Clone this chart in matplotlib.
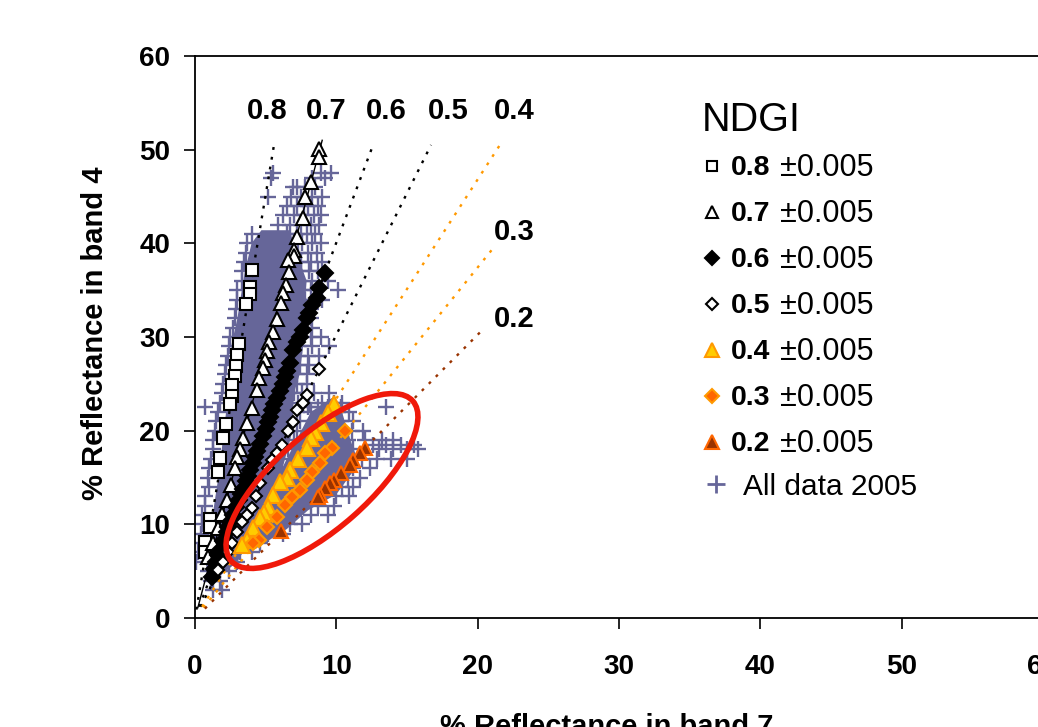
import matplotlib
matplotlib.use("Agg")
import matplotlib.pyplot as plt
from matplotlib.lines import Line2D
from matplotlib.patches import Ellipse
from matplotlib.transforms import IdentityTransform

FONT = 'Liberation Sans'
plt.rcParams['font.family'] = FONT

# NDGI series
x_08 = [4.0, 3.9, 3.9, 3.6, 3.1, 3.0, 2.9, 2.8, 2.6, 2.6, 2.5, 2.2, 2.0, 1.8, 1.6, 1.06, 1.06, 0.7, 0.7]
y_08 = [37.1, 35.3, 34.6, 33.5, 29.2, 28.1, 26.9, 25.8, 24.9, 23.7, 22.8, 20.7, 19.2, 17.1, 15.6, 10.6, 9.7, 8.1, 7.0]
x_07 = [8.78, 8.78, 8.2, 7.8, 7.65, 7.2, 7.0, 7.0, 6.6, 6.65, 6.45, 6.2, 6.1, 5.8, 5.5, 5.25, 5.1, 4.95, 4.8, 4.5,
        4.4, 4.0, 3.7, 3.4, 3.2, 3.0, 2.85, 2.55, 2.25, 1.9, 1.6, 1.3, 0.9]
y_07 = [50.1, 49.2, 46.5, 45.0, 42.7, 40.7, 39.3, 38.7, 38.2, 36.9, 35.6, 34.7, 33.6, 31.9, 30.5, 29.5, 28.5, 27.5, 26.7, 25.6,
        24.3, 22.4, 20.8, 19.2, 18.0, 17.2, 16.0, 14.2, 12.6, 11.1, 9.6, 8.0, 6.5]
x_06 = [9.2, 8.8, 8.6, 8.3, 8.1, 7.9, 7.65, 7.4, 7.2, 6.95, 6.7, 6.5, 6.4, 6.2, 6.0, 5.8, 5.6, 5.45, 5.3, 5.15, 5.0, 4.8, 4.6, 4.4, 4.25,
        4.1, 3.9, 3.75, 3.6, 3.4, 3.25, 3.1, 2.9, 2.7, 2.5, 2.35, 2.25, 2.0, 1.8, 1.65, 1.5, 1.35, 1.2]
y_06 = [36.8, 35.2, 34.2, 33.4, 32.6, 32.0, 30.7, 30.0, 29.5, 28.6, 27.2, 26.4, 25.7, 25.0, 24.2, 23.5, 22.8, 22.2, 21.5, 20.9, 20.2, 19.4, 18.6, 17.8,
        17.2, 16.6, 15.8, 15.2, 14.6, 13.8, 13.2, 12.6, 11.8, 11.0, 10.2, 9.7, 9.2, 8.2, 7.3, 6.7, 6.0, 5.2, 4.4]
x_05 = [8.8, 7.9, 7.65, 7.2, 6.9, 6.6, 6.15, 5.8, 5.45, 5.2, 4.6, 4.3, 4.05, 3.7, 3.3, 3.0, 2.6, 2.3, 2.0, 1.6]
y_05 = [26.6, 23.8, 23.0, 22.2, 20.9, 20.0, 18.5, 17.6, 16.9, 16.0, 14.4, 13.0, 11.7, 11.0, 10.2, 9.2, 8.0, 7.0, 6.0, 5.1]
x_04 = [9.8, 9.4, 8.9, 8.5, 8.2, 7.9, 7.3, 6.7, 6.5, 6.0, 5.5, 5.2, 4.9, 4.6, 4.1, 3.7, 3.3]
y_04 = [22.9, 21.9, 20.8, 19.9, 19.2, 18.2, 17.0, 15.8, 14.9, 14.5, 13.1, 11.8, 11.2, 10.7, 9.6, 8.3, 7.8]
x_03 = [10.6, 9.7, 9.2, 8.85, 8.3, 7.9, 7.4, 6.85, 6.4, 5.8, 5.1, 4.5, 4.1]
y_03 = [20.0, 18.2, 17.6, 16.5, 15.6, 14.7, 13.7, 12.9, 12.1, 10.8, 9.7, 8.3, 8.0]
x_02 = [12.0, 11.7, 11.2, 11.0, 10.3, 9.8, 9.55, 9.2, 8.85, 8.7, 6.1]
y_02 = [18.1, 17.6, 16.9, 16.3, 15.5, 14.7, 14.4, 13.9, 13.1, 12.9, 9.3]

# All data 2005: the parts so dense that single points cannot be read
dense_x = [0.7, 1.2, 1.7, 2.2, 2.6, 3.0, 3.5, 4.0, 4.7, 6.7, 7.3, 7.9, 7.75, 7.65, 7.4, 7.0, 6.9, 6.2, 4.5, 3.0, 1.2]
dense_y = [6.0, 10.5, 15.5, 22.0, 29.3, 32.0, 36.8, 40.0, 41.4, 41.4, 38.5, 36.0, 33.0, 29.0, 26.0, 24.0, 20.0, 16.0, 10.0, 6.0, 3.8]
dense2_x = [2.8, 4.4, 6.5, 8.0, 10.0, 11.6, 11.0, 10.4, 9.7, 8.2, 6.5, 4.5]
dense2_y = [6.5, 7.5, 9.5, 11.5, 13.2, 16.5, 19.0, 22.0, 23.5, 22.0, 17.0, 11.0]

# All data 2005: readable points, one list of x per y row
cloud_y = [47.5, 47, 46, 45, 44, 43, 42, 41, 40, 39, 38, 37, 36, 35, 34, 33, 32, 31, 30, 29, 28, 27, 26, 25, 24,
           23, 22.5, 22, 21, 20, 19, 18.5, 18, 17, 16, 15, 14, 13, 12, 11, 10, 9, 8, 7, 6, 5, 4, 3]
cloud_x = [
    [5.5, 8.9, 9.6], [5.4, 8.3, 9.2], [6.9, 7.2, 7.8, 8.5], [5.2, 6.8, 7.5, 8.3, 9.0], [6.5, 7.2, 8.0, 8.7],
    [6.2, 7.0, 7.7, 8.4, 8.9], [5.9, 6.7, 7.5, 8.2, 8.8], [4.0, 6.5, 7.2, 7.9, 8.5], [3.7, 7.0, 7.6, 8.3, 8.9],
    [3.6, 7.3, 8.0, 8.6], [3.5, 7.5, 8.2, 9.0], [3.3, 7.5, 8.1, 8.7], [3.3, 7.6, 8.3, 9.4], [3.0, 7.6, 8.2, 10.1],
    [3.0, 7.8, 8.4, 9.0], [2.9, 7.5, 8.2], [2.8, 7.6, 8.2], [2.7, 7.7, 8.3], [2.5, 7.5, 8.2, 8.9], [2.4, 7.5, 8.3, 9.5],
    [2.3, 7.3, 8.0, 8.8], [2.2, 7.4, 8.1], [2.1, 7.2, 7.9], [2.0, 7.2, 7.9], [1.9, 7.0, 7.6, 8.4, 9.5],
    [1.8, 7.3, 8.1, 9.0, 9.8, 10.4], [0.7, 8.0, 8.7, 9.4, 10.3, 13.5], [1.6, 7.2, 8.2, 9.0, 10.1, 10.9], [1.5, 7.4, 8.4, 9.4, 10.3, 11.2],
    [1.4, 7.2, 8.0, 9.2, 10.2, 11.1, 11.9], [1.3, 7.0, 8.4, 9.8, 10.8, 12.0, 13.2, 14.0], [12.6, 13.5, 14.6, 15.5],
    [1.3, 6.6, 7.7, 9.0, 10.2, 11.2, 13.0, 14.0, 15.0, 15.8], [1.1, 6.0, 7.1, 8.3, 9.6, 10.6, 11.8, 12.9, 13.9, 15.0],
    [1.0, 5.7, 6.9, 8.0, 9.2, 10.3, 11.2, 12.4], [0.9, 5.4, 6.5, 7.7, 8.8, 9.8, 10.8, 11.7], [1.0, 5.0, 6.0, 7.2, 8.3, 9.4, 10.4, 11.2],
    [0.7, 4.9, 5.8, 6.9, 8.0, 9.0, 10.0, 10.9], [0.7, 4.3, 5.4, 6.5, 7.6, 8.7, 9.8], [0.5, 4.3, 5.1, 6.0, 7.0, 8.2, 9.4], [0.5, 4.0, 4.8, 5.8, 6.7, 7.6],
    [0.4, 3.7, 4.5, 5.2, 6.2], [0.3, 3.0, 3.9, 4.6], [0.2, 2.5, 3.2, 4.0], [0.1, 1.5, 2.2, 3.0], [0.9, 1.7, 2.4], [1.1, 1.8], [1.3, 1.9],
]

# reference lines, from near the origin out to the end read in the picture
line_start_x = [0.1, 0.2, 0.3, 0.4, 0.5, 0.6, 0.7]
line_start_y = [0.9, 1.1, 1.2, 1.2, 1.2, 1.1, 1.0]
line_end_x = [5.6, 9.0, 12.6, 16.7, 21.7, 21.0, 20.5]
line_end_y = [50.6, 51.0, 50.5, 50.5, 50.8, 39.3, 31.0]
line_colors = ['black', 'black', 'black', 'black', '#FF9900', '#FF9900', '#993300']

line_labels = ['0.8', '0.7', '0.6', '0.5', '0.4', '0.3', '0.2']
line_label_x = [5.1, 9.3, 13.5, 17.9, 22.6, 22.6, 22.6]
line_label_y = [54.1, 54.1, 54.1, 54.1, 54.1, 41.2, 31.9]

legend_labels = ['0.8', '0.7', '0.6', '0.5', '0.4', '0.3', '0.2']
x_ticks = [0, 10, 20, 30, 40, 50, 60]
y_ticks = [0, 10, 20, 30, 40, 50, 60]

W, H = 1038, 727
fig = plt.figure(figsize=(W / 100, H / 100), dpi=100)
ax = fig.add_axes([195 / W, (H - 618) / H, 848 / W, 562 / H])
ax.set_xlim(0, 60)
ax.set_ylim(0, 60)

PURPLE = '#666699'
ax.fill(dense_x, dense_y, color=PURPLE, lw=0, zorder=1)
ax.fill(dense2_x, dense2_y, color=PURPLE, lw=0, zorder=1)
for y, xs in zip(cloud_y, cloud_x):
    ax.plot(xs, [y] * len(xs), ls='none', marker='+', ms=12, mew=1.7, color=PURPLE, zorder=1.5)

for i in range(len(line_end_x)):
    style = '-' if i == 1 else (0, (1.2, 3))
    ax.plot([line_start_x[i], line_end_x[i]], [line_start_y[i], line_end_y[i]],
            ls=style, lw=1.0 if i == 1 else 1.7, color=line_colors[i], zorder=2)

styles = [
    (x_08, y_08, 's', 'white', 'black', 8.5),
    (x_07, y_07, '^', 'white', 'black', 9.5),
    (x_06, y_06, 'D', 'black', 'black', 8.5),
    (x_05, y_05, 'D', 'white', 'black', 6.5),
    (x_04, y_04, '^', '#FFCC00', '#FF9900', 11.5),
    (x_03, y_03, 'D', '#FF6600', '#FF9900', 7.5),
    (x_02, y_02, '^', '#993300', '#FF6600', 10),
]
for xs, ys, m, fc, ec, ms in styles:
    ax.plot(xs, ys, ls='none', marker=m, mfc=fc, mec=ec, ms=ms, mew=1.5, zorder=3)

for i in range(len(line_labels)):
    ax.text(line_label_x[i], line_label_y[i], line_labels[i], ha='center', va='center',
            fontsize=21, fontweight='bold', zorder=6)

# the red ring is a drawn annotation, placed in pixels
ring = Ellipse((322, H - 481), 242, 94, angle=41.4, fill=False, ec='#F0190A', lw=4,
               transform=IdentityTransform(), zorder=5, clip_on=False)
ax.add_artist(ring)

ax.set_xticks(x_ticks)
ax.set_yticks(y_ticks)
ax.tick_params(length=8, width=1.2, labelsize=20)
ax.tick_params(axis='x', pad=18)
ax.tick_params(axis='y', pad=10)
for lab in ax.get_xticklabels() + ax.get_yticklabels():
    lab.set_fontweight('bold')
for s in ax.spines.values():
    s.set_linewidth(1.3)

fig.text(607 / W, 1 - 727 / H, '% Reflectance in band 7', ha='center', va='center', fontsize=21, fontweight='bold')
fig.text(95 / W, 1 - 333 / H, '% Reflectance in band 4', ha='center', va='center', rotation=90, fontsize=21, fontweight='bold')

# legend, written out by hand because of the mixed bold and regular text
legend_sizes = [7.5, 8.5, 7, 6, 10, 7, 10]
fig.text(702 / W, 1 - 120 / H, 'NDGI', ha='left', va='center', fontsize=28.5)
for i, lab in enumerate(legend_labels):
    yp = 166 + i * 46
    _, _, m, fc, ec, _ = styles[i]
    fig.add_artist(Line2D([712 / W], [1 - yp / H], marker=m, mfc=fc, mec=ec, ms=legend_sizes[i],
                          mew=1.5, ls='none', transform=fig.transFigure))
    fig.text(731 / W, 1 - (yp + 2) / H, lab, ha='left', va='center', fontsize=20.5, fontweight='bold')
    fig.text(780 / W, 1 - (yp + 2) / H, '±0.005', ha='left', va='center', fontsize=22)
fig.add_artist(Line2D([716 / W], [1 - 484 / H], marker='+', ms=13, mew=2, color=PURPLE, ls='none',
                      transform=fig.transFigure))
fig.text(743 / W, 1 - 487 / H, 'All data 2005', ha='left', va='center', fontsize=21.5)

fig.savefig('out.png', dpi=100)
